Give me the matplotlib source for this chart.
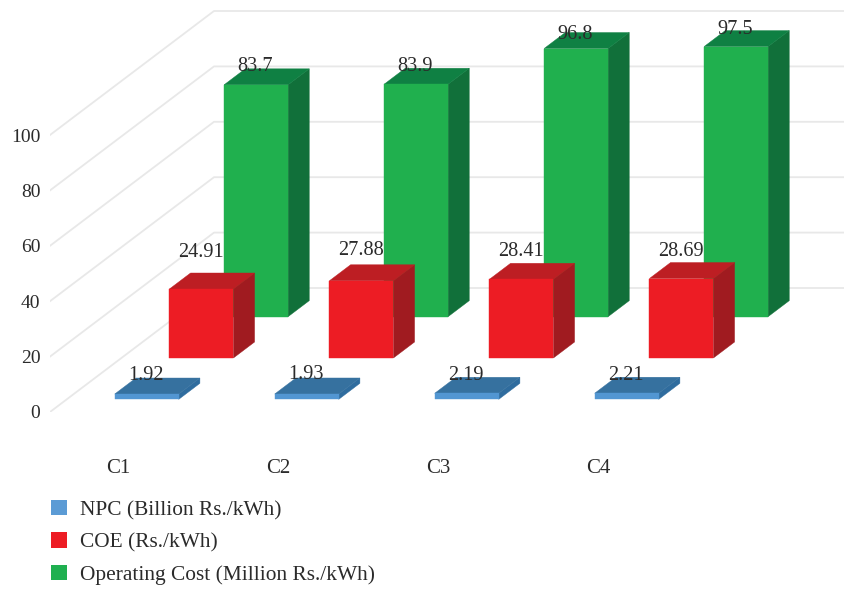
import matplotlib
matplotlib.use("Agg")
import matplotlib.pyplot as plt
from matplotlib.patches import Patch, Polygon

plt.rcParams["font.family"] = ["Liberation Serif", "DejaVu Serif"]

# data
categories = ["C1", "C2", "C3", "C4"]
npc = [1.92, 1.93, 2.19, 2.21]
coe = [24.91, 27.88, 28.41, 28.69]
operating_cost = [83.7, 83.9, 96.8, 97.5]
series_names = ["NPC (Billion Rs./kWh)", "COE (Rs./kWh)", "Operating Cost (Million Rs./kWh)"]
y_ticks = [0, 20, 40, 60, 80, 100]

# how far each value label sits above the back edge of its bar (pixels)
npc_lift = [3, 3, 2, 2]
coe_lift = [21, 14, 12, 11]
cost_lift = [2, 2, -2, 1]

# front, top and side colours of each series
npc_faces = ("#5296d2", "#36719f", "#2f6c9e")
coe_faces = ("#ed1c24", "#bd1e23", "#a01b20")
cost_faces = ("#20b04e", "#0f8043", "#11703a")

text_color = "#2b2b2b"
grid_color = "#e8e8e8"

# layout of the fake 3d box, one category = 160 px and one value unit = 2.77 px
cat_px = 160
val_px = 2.77
depth_x = 164 / cat_px
depth_y = 124 / val_px
bar_width = 0.4
bar_depth = 0.129
slot = 1 / 3


# oblique projection, depth runs from 0 (front) to 1 (back wall)
def project(u, depth, value):
    return (u + depth_x * depth, value + depth_y * depth)


def draw_bar(ax, u, depth, value, faces):
    left, right = u, u + bar_width
    back = depth + bar_depth
    front_face = [project(left, depth, 0), project(right, depth, 0),
                  project(right, depth, value), project(left, depth, value)]
    top_face = [project(left, depth, value), project(right, depth, value),
                project(right, back, value), project(left, back, value)]
    side_face = [project(right, depth, 0), project(right, back, 0),
                 project(right, back, value), project(right, depth, value)]
    for pts, col in [(side_face, faces[2]), (top_face, faces[1]), (front_face, faces[0])]:
        ax.add_patch(Polygon(pts, closed=True, facecolor=col, edgecolor=col,
                             linewidth=0.3, clip_on=False, zorder=3))


fig = plt.figure(figsize=(8.44, 5.90), dpi=100)
ax = fig.add_axes([50 / 844, 178 / 590, 794 / 844, 412 / 590])
ax.set_xlim(0, 794 / cat_px)
ax.set_ylim(0, 412 / val_px)
for spine in ax.spines.values():
    spine.set_visible(False)

# side wall and back wall gridlines
for tick in y_ticks:
    px, py = zip(project(0, 0, tick), project(0, 1, tick), project(5, 1, tick))
    ax.plot(px, py, color=grid_color, linewidth=1.3, clip_on=True, zorder=1)

# back series first so the nearer bars cover them
series = [(operating_cost, cost_faces, cost_lift, 2),
          (coe, coe_faces, coe_lift, 1),
          (npc, npc_faces, npc_lift, 0)]
for values, faces, lifts, row in series:
    start = row * slot + (slot - bar_depth) / 2
    for i, value in enumerate(values):
        u = i + (1 - bar_width) / 2
        draw_bar(ax, u, start, value, faces)
        anchor = project(u + bar_width / 2, start + bar_depth, value)
        ax.annotate(str(value), xy=anchor, xytext=(-22, lifts[i]),
                    textcoords="offset pixels", ha="center", va="center",
                    fontsize=14.6, color=text_color, zorder=5, annotation_clip=False)

# axis labels
ax.set_yticks(y_ticks)
ax.set_xticks([i + 0.425 for i in range(len(categories))])
ax.set_xticklabels(categories)
ax.tick_params(axis="y", length=0, pad=7, labelsize=14, labelcolor=text_color)
ax.tick_params(axis="x", length=0, pad=34, labelsize=15, labelcolor=text_color)

# legend
handles = [Patch(facecolor=c, label=n) for c, n in
           zip(["#5b9bd5", "#ed1c24", "#1fb050"], series_names)]
ax.legend(handles=handles, loc="lower left", bbox_to_anchor=(51 / 844, 5 / 590),
          bbox_transform=fig.transFigure, frameon=False, fontsize=15.4,
          labelcolor=text_color, handlelength=0.75, handleheight=0.75,
          handletextpad=0.6, labelspacing=0.57, borderpad=0, borderaxespad=0)

fig.savefig("out.png", dpi=100)
